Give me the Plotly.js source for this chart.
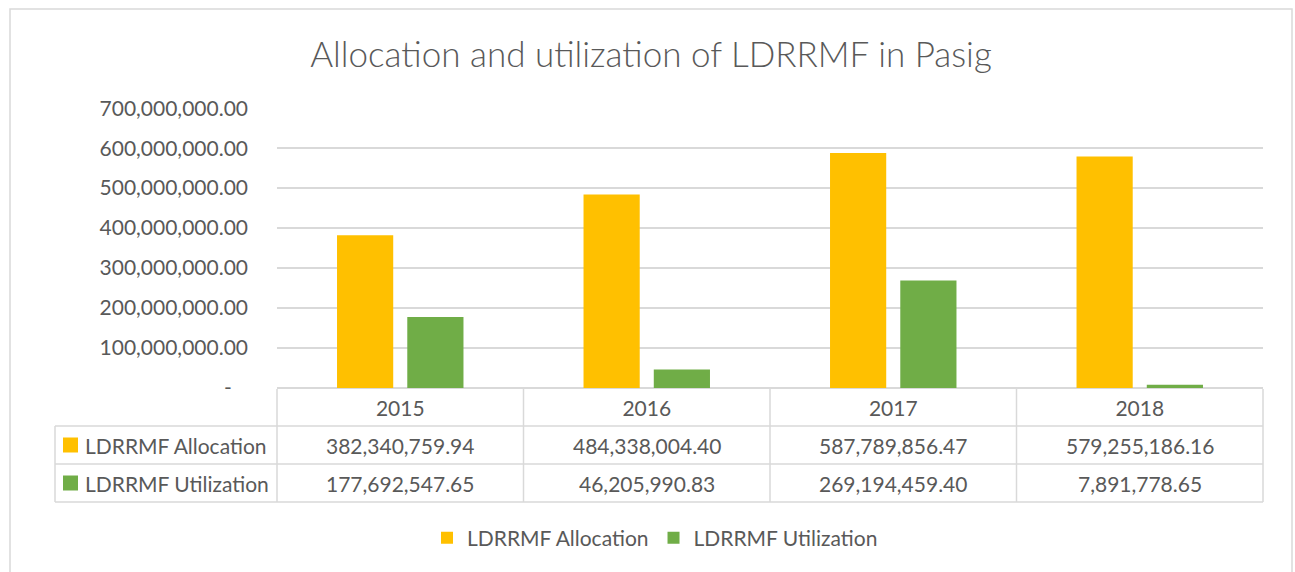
<!DOCTYPE html>
<html>
<head>
<meta charset="utf-8">
<script src="https://cdn.plot.ly/plotly-3.0.1.min.js"></script>
<style>html,body{margin:0;padding:0;background:#fff;}#chart{width:1295px;height:572px;}</style>
</head>
<body>
<div id="chart"></div>
<script>
const years = ['2015', '2016', '2017', '2018'];
const seriesNames = ['LDRRMF Allocation', 'LDRRMF Utilization'];
const allocation = [382340759.94, 484338004.40, 587789856.47, 579255186.16];
const utilization = [177692547.65, 46205990.83, 269194459.40, 7891778.65];
const tickValues = [0, 100000000, 200000000, 300000000, 400000000, 500000000, 600000000, 700000000];
const tickLabels = ['-\u00a0\u00a0\u00a0', '100,000,000.00', '200,000,000.00', '300,000,000.00', '400,000,000.00', '500,000,000.00', '600,000,000.00', '700,000,000.00'];
const colors = ['#FFC000', '#70AD47'];

const W = 1295, H = 572, L = 277, R = 1263, T = 108, B = 388;
const px = x => (x - L) / (R - L);
const py = y => (B - y) / (B - T);
const fmt = v => v.toLocaleString('en-US', {minimumFractionDigits: 2, maximumFractionDigits: 2});
const FONT = 'Lato, "Open Sans", sans-serif';
const TXT = '#595959';
const GRID = '#d9d9d9';

const traces = [
  {type: 'bar', name: seriesNames[0], x: years, y: allocation, marker: {color: colors[0]}, hoverinfo: 'x+y'},
  {type: 'bar', name: seriesNames[1], x: years, y: utilization, marker: {color: colors[1]}, hoverinfo: 'x+y'}
];

const shapes = [];
const line = (x0, y0, x1, y1) => shapes.push({type: 'line', xref: 'paper', yref: 'paper', x0: px(x0), y0: py(y0), x1: px(x1), y1: py(y1), line: {color: GRID, width: 1.5}, layer: 'above'});
// outer chart border
shapes.push({type: 'rect', xref: 'paper', yref: 'paper', x0: px(10), y0: py(9), x1: px(1292), y1: py(600), line: {color: GRID, width: 1.5}, layer: 'below'});
// data table grid
const rowY = [426, 464, 502];
rowY.forEach(y => line(55, y, R, y));
line(55, 426, 55, 502);
[277, 523.5, 770, 1016.5, 1263].forEach(x => line(x, 389, x, 502));

const annotations = [];
const rowCenters = [445, 483];
const rowData = [allocation, utilization];
rowData.forEach((arr, r) => {
  shapes.push({type: 'rect', xref: 'paper', yref: 'paper', x0: px(63), x1: px(78), y0: py(rowCenters[r] - 7.5), y1: py(rowCenters[r] + 7.5), fillcolor: colors[r], line: {width: 0}});
  annotations.push({xref: 'paper', yref: 'paper', x: px(83), y: py(rowCenters[r]), xanchor: 'left', yanchor: 'middle', showarrow: false, text: seriesNames[r], font: {family: FONT, size: 21, color: TXT}});
  arr.forEach((v, i) => {
    // category index i on the x axis (years[i])
    annotations.push({xref: 'x', yref: 'paper', x: i, y: py(rowCenters[r]), xanchor: 'center', yanchor: 'middle', showarrow: false, text: fmt(v), font: {family: FONT, size: 21, color: TXT}});
  });
});

const layout = {
  width: W, height: H,
  margin: {l: L, r: W - R, t: T, b: H - B},
  paper_bgcolor: '#fff', plot_bgcolor: '#fff',
  title: {text: 'Allocation and utilization of LDRRMF in Pasig', x: 651 / W, xanchor: 'center', y: 1 - 55 / H, yanchor: 'middle', font: {family: FONT, size: 35, weight: 300, color: TXT}},
  barmode: 'group', bargap: 0.43, bargroupgap: 0.2,
  xaxis: {type: 'category', range: [-0.5, 3.5], autorange: false, showgrid: false, zeroline: false, showline: false, ticks: '', ticklabelstandoff: 6,
    tickfont: {family: FONT, size: 21, color: TXT}, fixedrange: true},
  yaxis: {range: [0, 700500000], autorange: false, tickvals: tickValues, ticktext: tickLabels, showgrid: true, gridcolor: GRID, gridwidth: 1.5,
    zeroline: true, zerolinecolor: GRID, zerolinewidth: 1.5, showline: false, ticks: '', ticklabelstandoff: 28,
    tickfont: {family: FONT, size: 21, color: TXT}, fixedrange: true},
  showlegend: true,
  legend: {orientation: 'h', x: px(655), xanchor: 'center', y: py(538), yanchor: 'middle', font: {family: FONT, size: 21, color: TXT}, itemwidth: 30, traceorder: 'normal'},
  shapes: shapes,
  annotations: annotations
};

Plotly.newPlot('chart', traces, layout, {displayModeBar: false, staticPlot: true});
</script>
</body>
</html>
